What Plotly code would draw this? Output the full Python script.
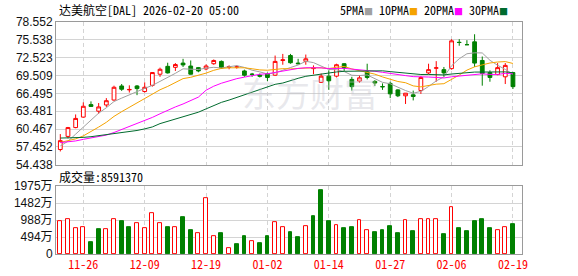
import plotly.graph_objects as go

# ---------------- data ----------------
dates = ["11-21", "11-24", "11-25", "11-26", "11-28", "12-01", "12-02", "12-03", "12-04", "12-05",
         "12-08", "12-09", "12-10", "12-11", "12-12", "12-15", "12-16", "12-17", "12-18", "12-19",
         "12-22", "12-23", "12-24", "12-26", "12-29", "12-30", "12-31", "01-02", "01-05", "01-06",
         "01-07", "01-08", "01-09", "01-12", "01-13", "01-14", "01-15", "01-16", "01-20", "01-21",
         "01-22", "01-23", "01-26", "01-27", "01-28", "01-29", "01-30", "02-02", "02-03", "02-04",
         "02-05", "02-06", "02-09", "02-10", "02-11", "02-12", "02-13", "02-17", "02-18", "02-19"]

opens = [57.00, 59.22, 60.71, 62.48, 64.59, 63.48, 64.53, 65.36, 67.74, 67.08,
         67.74, 66.80, 67.85, 69.73, 71.06, 70.89, 71.61, 71.11, 70.84, 70.62,
         71.50, 71.89, 70.89, 70.95, 70.28, 69.75, 69.56, 69.84, 69.56, 72.05,
         72.88, 71.61, 71.89, 70.67, 68.35, 69.40, 69.40, 71.50, 68.85, 68.57,
         70.12, 68.51, 67.65, 68.18, 67.08, 66.08, 66.25, 66.96, 69.95, 70.75,
         70.50, 70.67, 75.12, 74.73, 75.20, 72.05, 70.01, 69.67, 69.29, 70.01]
highs = [59.61, 60.82, 62.93, 64.97, 65.14, 64.86, 65.69, 67.79, 68.07, 67.85,
         67.90, 68.35, 70.06, 70.84, 71.67, 71.61, 72.33, 72.05, 70.95, 71.39,
         72.22, 72.05, 71.22, 71.22, 70.50, 69.95, 69.84, 70.01, 72.88, 73.16,
         73.16, 72.33, 73.05, 71.22, 69.84, 70.39, 71.50, 71.61, 69.29, 69.56,
         71.50, 68.73, 68.18, 68.46, 67.19, 66.52, 66.96, 69.40, 71.50, 71.94,
         70.95, 75.65, 75.65, 75.48, 76.48, 72.72, 70.39, 71.61, 71.61, 70.12]
lows = [56.68, 58.89, 60.60, 62.37, 64.20, 63.04, 64.20, 65.25, 66.91, 66.63,
        66.19, 66.63, 67.63, 69.29, 69.84, 70.28, 70.95, 69.67, 70.06, 70.39,
        71.33, 70.67, 70.56, 70.67, 69.29, 69.29, 69.18, 68.57, 69.45, 71.33,
        71.50, 71.39, 71.33, 69.73, 68.29, 67.08, 69.18, 70.28, 66.96, 68.29,
        68.85, 67.74, 67.08, 65.69, 65.86, 64.70, 65.30, 66.41, 69.73, 68.46,
        69.29, 70.50, 74.54, 74.71, 70.95, 67.79, 68.46, 69.56, 68.07, 67.24]
closes = [58.50, 60.71, 62.26, 64.31, 64.28, 64.20, 65.25, 67.52, 67.19, 67.15,
          67.30, 67.52, 70.01, 70.56, 69.95, 71.36, 71.30, 69.73, 70.28, 71.11,
          72.05, 70.78, 71.00, 70.97, 69.56, 69.70, 69.40, 69.18, 71.89, 72.16,
          71.67, 71.50, 72.33, 70.78, 69.40, 68.62, 71.33, 70.78, 67.63, 69.12,
          69.18, 68.24, 67.60, 66.41, 66.08, 66.52, 65.97, 69.18, 70.50, 70.80,
          69.95, 75.37, 75.09, 74.71, 71.61, 69.84, 69.18, 70.84, 71.22, 67.63]

# volume in 万 (10k shares)
volume_wan = [945, 1005, 765, 790, 345, 710, 730, 1005, 945, 775,
              910, 745, 1180, 910, 795, 795, 1060, 705, 614, 1639,
              518, 614, 182, 297, 527, 383, 326, 527, 920, 777,
              642, 499, 805, 1103, 1850, 959, 834, 757, 786, 978,
              690, 642, 700, 815, 614, 978, 671, 1007, 1007, 1007,
              585, 1352, 757, 671, 959, 1016, 757, 690, 777, 859.137]

# moving-average values before each window is full
ma5_head = [57.6, 58.4, 59.6, 60.8]
ma10_head = [58.2, 58.45, 58.8, 59.3, 60.0, 60.8, 61.6, 62.6, 63.4]
ma20_head = [58.17, 58.28, 58.45, 58.72, 58.94, 59.22, 59.44, 59.88, 60.38, 60.93,
             61.49, 61.99, 62.43, 63.04, 63.65, 64.20, 64.70, 65.25, 65.86]
ma30_head = [58.94, 58.94, 59.00, 59.05, 59.17, 59.33, 59.55, 59.72, 59.88, 60.05,
             60.22, 60.49, 60.82, 61.38, 61.77, 62.10, 62.48, 62.93, 63.31, 63.87,
             64.48, 64.97, 65.36, 65.80, 66.25, 66.69, 67.08, 67.57, 68.02]

price_ticks = [54.438, 57.452, 60.467, 63.481, 66.495, 69.509, 72.523, 75.538, 78.552]
vol_ticks = [0, 494, 988, 1482, 1975]
vol_tick_text = ["0", "494万", "988万", "1482万", "1975万"]
label_dates = ["11-26", "12-09", "12-19", "01-02", "01-14", "01-27", "02-06", "02-19"]

title_text = "达美航空[DAL] 2026-02-20 05:00"
vol_title = "成交量:8591370"
ma_names = ["5PMA", "10PMA", "20PMA", "30PMA"]

# ---------------- styles ----------------
RED = "#ff0000"
GREEN = "#008000"
MA_COLORS = ["#a0a0a0", "#f5a300", "#ff00ff", "#006b2e"]
GRID = "#d4d4d4"
BORDER = "#9a9a9a"
MONO = "Noto Sans Mono CJK SC, Noto Sans CJK SC, monospace"
SANS = "Liberation Sans, Arial, Noto Sans CJK SC, sans-serif"


def moving_avg(head, n):
    out = list(head)
    for i in range(len(head), len(closes)):
        out.append(sum(closes[i - n + 1:i + 1]) / n)
    return out


mas = [moving_avg(ma5_head, 5), moving_avg(ma10_head, 10),
       moving_avg(ma20_head, 20), moving_avg(ma30_head, 30)]

# volume colour: compared with previous close
vol_up = []
for i, c in enumerate(closes):
    ref = opens[0] if i == 0 else closes[i - 1]
    vol_up.append(c >= ref)

fig = go.Figure()

fig.add_trace(go.Candlestick(
    x=dates, open=opens, high=highs, low=lows, close=closes,
    increasing=dict(line=dict(color=RED, width=1), fillcolor="#ffffff"),
    decreasing=dict(line=dict(color=GREEN, width=1), fillcolor=GREEN),
    whiskerwidth=0, xaxis="x", yaxis="y", hoverinfo="skip", showlegend=False))

for name, vals, col in zip(ma_names, mas, MA_COLORS):
    fig.add_trace(go.Scatter(x=dates, y=vals, mode="lines", name=name,
                             line=dict(color=col, width=1), xaxis="x", yaxis="y",
                             hoverinfo="skip", showlegend=False))

fig.add_trace(go.Bar(
    x=dates, y=volume_wan, width=0.5,
    marker=dict(color=["#ffffff" if u else GREEN for u in vol_up],
                line=dict(color=[RED if u else GREEN for u in vol_up], width=1)),
    xaxis="x2", yaxis="y2", hoverinfo="skip", showlegend=False))

L, R, T, B = 56, 55.5, 22, 21.5
W, H = 578, 276
ph = H - T - B


def py(px):  # pixel row -> paper y
    return (H - B - px) / ph


def px_x(px):  # pixel column -> paper x
    return (px - L) / (W - L - R)


xcommon = dict(type="category", range=[-0.56, 60.18], tickvals=label_dates,
               showgrid=True, gridcolor=GRID, griddash="4px,3px", gridwidth=1,
               showline=True, mirror=True, linecolor=BORDER, linewidth=1,
               zeroline=False, ticks="", fixedrange=True, automargin=False)
ycommon = dict(tickfont=dict(family=SANS, size=12, color="#111111"),
               showgrid=True, gridcolor=GRID, gridwidth=1, showline=True, mirror=True,
               linecolor=BORDER, linewidth=1, zeroline=False, ticks="",
               fixedrange=True, automargin=False)

fig.update_layout(
    template="none",
    width=W, height=H, margin=dict(l=L, r=R, t=T, b=B, autoexpand=False),
    paper_bgcolor="white", plot_bgcolor="white", showlegend=False,
    bargap=0,
    xaxis=dict(domain=[0, 1], anchor="y", showticklabels=False,
               rangeslider=dict(visible=False), **xcommon),
    xaxis2=dict(domain=[0, 1], anchor="y2", matches="x", showticklabels=True,
                tickfont=dict(family=MONO, size=12, color=RED), **xcommon),
    yaxis=dict(domain=[py(165), 1], range=[price_ticks[0], price_ticks[-1]],
               tickvals=price_ticks, ticktext=[f"{v:.3f}" for v in price_ticks], **ycommon),
    yaxis2=dict(domain=[0, py(186.5)], range=[0, vol_ticks[-1]],
                tickvals=vol_ticks, ticktext=vol_tick_text, **ycommon),
)

annotations = [
    dict(text=title_text, x=px_x(57), y=py(9), xref="paper", yref="paper",
         xanchor="left", yanchor="middle", showarrow=False,
         font=dict(family=MONO, size=12, color="#000000")),
    dict(text=vol_title, x=px_x(57), y=py(177), xref="paper", yref="paper",
         xanchor="left", yanchor="middle", showarrow=False,
         font=dict(family=MONO, size=12, color="#000000")),
    dict(text="东方财富", x=px_x(310), y=py(93), xref="paper", yref="paper",
         xanchor="center", yanchor="middle", showarrow=False,
         font=dict(family="Noto Sans CJK SC", size=34, color="rgba(190,190,200,0.35)")),
]
legend_html = "&nbsp;".join(
    f"{n}<span style='color:{c};font-size:9px'>■</span>" for n, c in zip(ma_names, MA_COLORS))
annotations.append(dict(text=legend_html, x=px_x(338), y=py(9), xref="paper", yref="paper",
                        xanchor="left", yanchor="middle", showarrow=False,
                        font=dict(family=MONO, size=12, color="#000000")))
fig.update_layout(annotations=annotations)

fig.write_html("out.html")
